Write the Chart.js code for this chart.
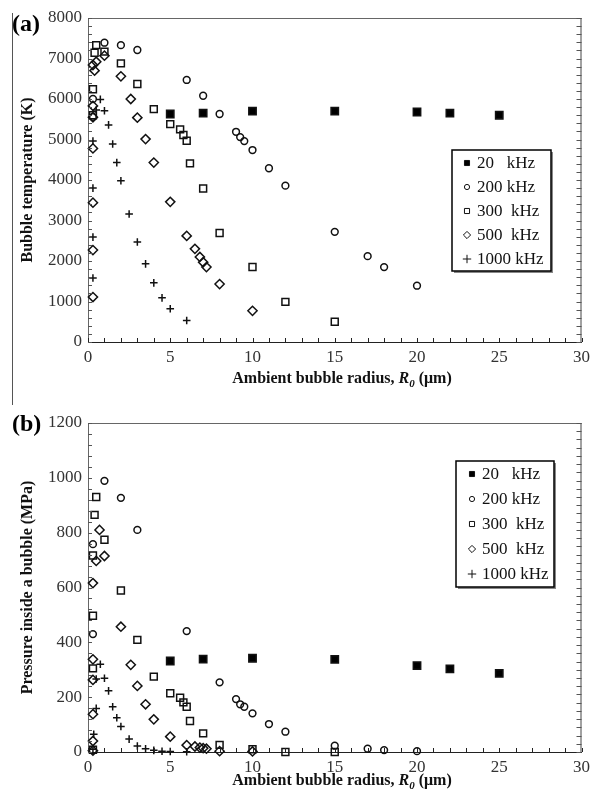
<!DOCTYPE html>
<html><head><meta charset="utf-8">
<script src="https://cdn.jsdelivr.net/npm/chart.js@4/dist/chart.umd.min.js"></script>
<style>
html,body{margin:0;padding:0;background:#fff;}
#wrap{position:relative;width:595px;height:796px;overflow:hidden;}
canvas{position:absolute;left:0;}
#ca{top:0;} #cb{top:400px;}
#vline{position:absolute;left:12px;top:13px;width:1px;height:392px;background:#555;}
</style></head><body>
<div id="wrap">
<div id="vline"></div>
<canvas id="ca" width="595" height="400"></canvas>
<canvas id="cb" width="595" height="396"></canvas>
</div>
<script>
// ---------- data ----------
const freqLabels = ['20   kHz', '200 kHz', '300  kHz', '500  kHz', '1000 kHz'];
const xTicks = [0, 5, 10, 15, 20, 25, 30];
const tempTicks = [0, 1000, 2000, 3000, 4000, 5000, 6000, 7000, 8000];
const presTicks = [0, 200, 400, 600, 800, 1000, 1200];
const tempTitle = 'Bubble temperature (K)';
const presTitle = 'Pressure inside a bubble (MPa)';
const xTitleParts = ['Ambient bubble radius, ', 'R', '0', ' (\u03bcm)'];

// (a) bubble temperature (K)
const tR20 = [5, 7, 10, 15, 20, 22, 25];
const tV20 = [5630, 5650, 5700, 5700, 5680, 5650, 5600];
const tR200 = [0.3, 0.3, 1, 2, 3, 6, 7, 8, 9, 9.25, 9.5, 10, 11, 12, 15, 17, 18, 20];
const tV200 = [6000, 5560, 7390, 7330, 7210, 6470, 6080, 5630, 5190, 5060, 4960, 4740, 4290, 3860, 2720, 2120, 1850, 1390];
const tR300 = [0.3, 0.3, 0.4, 0.5, 1, 2, 3, 4, 5, 5.6, 5.8, 6, 6.2, 7, 8, 10, 12, 15];
const tV300 = [6240, 5600, 7140, 7330, 7170, 6880, 6370, 5750, 5380, 5250, 5110, 4970, 4410, 3790, 2690, 1850, 990, 500];
const tR500 = [0.3, 0.3, 0.3, 0.3, 0.3, 0.3, 0.3, 0.4, 0.5, 1, 2, 2.6, 3, 3.5, 4, 5, 6, 6.5, 6.8, 7, 7.2, 8, 10];
const tV500 = [6840, 5830, 5550, 4780, 3440, 2270, 1110, 6700, 6920, 7070, 6560, 6000, 5540, 5010, 4430, 3460, 2620, 2300, 2100, 1970, 1850, 1430, 770];
const tR1000 = [0.3, 0.3, 0.3, 0.3, 0.5, 0.75, 1, 1.25, 1.5, 1.75, 2, 2.5, 3, 3.5, 4, 4.5, 5, 6];
const tV1000 = [4960, 3800, 2590, 1580, 5730, 5990, 5710, 5360, 4890, 4430, 3980, 3160, 2470, 1930, 1460, 1090, 820, 530];

// (b) pressure inside a bubble (MPa)
const pR20 = [5, 7, 10, 15, 20, 22, 25];
const pV20 = [332, 339, 342, 338, 315, 303, 287];
const pR200 = [0.3, 0.3, 1, 2, 3, 6, 8, 9, 9.25, 9.5, 10, 11, 12, 15, 17, 18, 20];
const pV200 = [758, 430, 989, 927, 810, 441, 254, 193, 174, 165, 141, 102, 74, 23, 12, 7, 3];
const pR300 = [0.3, 0.3, 0.3, 0.3, 0.4, 0.5, 1, 2, 3, 4, 5, 5.6, 5.8, 6, 6.2, 7, 8, 10, 12, 15];
const pV300 = [717, 497, 305, 8, 865, 930, 774, 589, 409, 275, 214, 198, 181, 165, 113, 68, 26, 10, 0, 0];
const pR500 = [0.3, 0.3, 0.3, 0.3, 0.3, 0.3, 0.5, 0.7, 1, 2, 2.6, 3, 3.5, 4, 5, 6, 6.5, 6.8, 7, 7.2, 8, 10];
const pV500 = [616, 338, 263, 138, 40, 5, 697, 810, 715, 457, 318, 241, 174, 119, 56, 25, 20, 16, 14, 12, 3, 2];
const pR1000 = [0.3, 0.35, 0.5, 0.5, 0.75, 1, 1.25, 1.5, 1.75, 2, 2.5, 3, 3.5, 4, 4.5, 5, 6];
const pV1000 = [10, 65, 159, 266, 320, 269, 223, 165, 125, 93, 47, 22, 12, 6, 3, 2, 1];

// ---------- styles ----------
const FONT = '"Liberation Serif", "Times New Roman", serif';
const markerStyles = [
  {pointStyle: 'rect', radius: 5.2, fill: '#000', legendRadius: 3.6},
  {pointStyle: 'circle', radius: 3.4, fill: 'rgba(0,0,0,0)', legendRadius: 2.6},
  {pointStyle: 'rect', radius: 4.9, fill: 'rgba(0,0,0,0)', legendRadius: 3.6},
  {pointStyle: 'rectRot', radius: 4.6, fill: 'rgba(0,0,0,0)', legendRadius: 3.6},
  {pointStyle: 'cross', radius: 3.8, fill: 'rgba(0,0,0,0)', legendRadius: 4.2}
];

function pts(xs, ys) { return xs.map((x, i) => ({x: x, y: ys[i]})); }

function makeDatasets(series) {
  return series.map((s, i) => ({
    label: freqLabels[i],
    data: pts(s[0], s[1]),
    pointStyle: markerStyles[i].pointStyle,
    pointRadius: markerStyles[i].radius,
    pointHoverRadius: markerStyles[i].radius,
    backgroundColor: markerStyles[i].fill,
    borderColor: '#111',
    pointBorderWidth: 1.5,
    borderWidth: 1.5,
    showLine: false,
    clip: false
  }));
}

const decoPlugin = {
  id: 'deco',
  afterDraw(chart) {
    const o = chart.options.plugins.deco;
    const ctx = chart.ctx;
    const {left, right, top, bottom} = chart.chartArea;
    const x = chart.scales.x, y = chart.scales.y;
    const ln = (x1, y1, x2, y2) => { ctx.beginPath(); ctx.moveTo(x1, y1); ctx.lineTo(x2, y2); ctx.stroke(); };
    ctx.save();
    ctx.lineWidth = 1;
    ctx.strokeStyle = '#666';
    ln(left, top + 0.5, right, top + 0.5);
    ctx.strokeStyle = '#444';
    ln(right - 0.5, top, right - 0.5, bottom);
    // x ticks (inward)
    ctx.strokeStyle = '#222';
    for (let v = x.min; v <= x.max + 1e-9; v += o.xMinor) {
      const px = Math.round(x.getPixelForValue(v)) + 0.5;
      ln(px, bottom, px, bottom - 4);
    }
    // left y ticks
    ctx.strokeStyle = '#555';
    for (let v = y.min; v <= y.max + 1e-9; v += o.yMinor) {
      const py = Math.round(y.getPixelForValue(v)) + 0.5;
      ln(left, py, left + 4, py);
    }
    // right ticks
    for (let v = y.min; v <= y.max + 1e-9; v += o.rMinor) {
      const py = Math.round(y.getPixelForValue(v)) + 0.5;
      ln(right, py, right - 5, py);
    }
    // legend
    const L = o.legend;
    ctx.fillStyle = '#888';
    ctx.fillRect(L.x + 2, L.y + 2, L.w, L.h);
    ctx.fillStyle = '#fff';
    ctx.fillRect(L.x, L.y, L.w, L.h);
    ctx.strokeStyle = '#000';
    ctx.lineWidth = 1.5;
    ctx.strokeRect(L.x, L.y, L.w, L.h);
    chart.data.datasets.forEach((ds, i) => {
      const cy = L.y + L.first + i * L.step;
      ctx.save();
      ctx.strokeStyle = '#111';
      ctx.fillStyle = markerStyles[i].fill;
      ctx.lineWidth = 1;
      Chart.helpers.drawPoint(ctx, {pointStyle: ds.pointStyle, radius: markerStyles[i].legendRadius, rotation: 0, borderWidth: 1}, L.x + L.mx, cy);
      ctx.restore();
      ctx.fillStyle = '#111';
      ctx.font = '17px ' + FONT;
      ctx.textBaseline = 'middle';
      ctx.textAlign = 'left';
      ctx.fillText(ds.label, L.x + L.tx, cy + 1);
    });
    // x title with italic R0
    const parts = [
      {t: xTitleParts[0], f: 'bold 16px ' + FONT, dy: 0},
      {t: xTitleParts[1], f: 'italic bold 16px ' + FONT, dy: 0},
      {t: xTitleParts[2], f: 'italic bold 11px ' + FONT, dy: 4},
      {t: xTitleParts[3], f: 'bold 16px ' + FONT, dy: 0}
    ];
    ctx.textBaseline = 'alphabetic';
    ctx.fillStyle = '#111';
    let total = 0;
    parts.forEach(p => { ctx.font = p.f; p.w = ctx.measureText(p.t).width; total += p.w; });
    let cx = o.xTitle.cx - total / 2;
    parts.forEach(p => { ctx.font = p.f; ctx.fillText(p.t, cx, o.xTitle.base + p.dy); cx += p.w; });
    // panel label
    ctx.font = 'bold 24px ' + FONT;
    ctx.fillStyle = '#000';
    ctx.fillText(o.panel.text, o.panel.x, o.panel.base);
    ctx.restore();
  }
};

function makeChart(id, series, yTicks, yTitle, o) {
  const cv = document.getElementById(id);
  return new Chart(cv, {
    type: 'scatter',
    data: {datasets: makeDatasets(series)},
    plugins: [decoPlugin],
    options: {
      responsive: false,
      animation: false,
      devicePixelRatio: 1,
      layout: {padding: {left: 0, right: 595 - o.right, top: o.top, bottom: 0}},
      plugins: {legend: {display: false}, tooltip: {enabled: false}, deco: o},
      scales: {
        x: {
          type: 'linear', min: 0, max: 30,
          afterBuildTicks: s => { s.ticks = xTicks.map(v => ({value: v})); },
          afterFit: s => { s.height = cv.height - o.bottom; },
          grid: {display: false, drawTicks: false},
          border: {display: true, color: '#222', width: 1},
          ticks: {padding: 5, color: '#333', font: {family: FONT, size: 17}, callback: v => String(v), maxRotation: 0}
        },
        y: {
          type: 'linear', min: yTicks[0], max: yTicks[yTicks.length - 1],
          afterBuildTicks: s => { s.ticks = yTicks.map(v => ({value: v})); },
          afterFit: s => { s.width = o.left; },
          grid: {display: false, drawTicks: false},
          border: {display: true, color: '#666', width: 1},
          ticks: {padding: 6, color: '#333', font: {family: FONT, size: 17}, callback: v => String(v)},
          title: {display: true, text: yTitle, color: '#111', font: {family: FONT, size: 16, weight: 'bold'}, padding: {top: 18, bottom: 0}}
        }
      }
    }
  });
}

makeChart('ca',
  [[tR20, tV20], [tR200, tV200], [tR300, tV300], [tR500, tV500], [tR1000, tV1000]],
  tempTicks, tempTitle,
  {left: 88, right: 586, top: 18, bottom: 342, xMinor: 1, yMinor: 200, rMinor: 200,
   legend: {x: 452, y: 150, w: 99, h: 121, first: 13, step: 24, mx: 15, tx: 25},
   xTitle: {cx: 342, base: 383}, panel: {text: '(a)', x: 12, base: 31}});

makeChart('cb',
  [[pR20, pV20], [pR200, pV200], [pR300, pV300], [pR500, pV500], [pR1000, pV1000]],
  presTicks, presTitle,
  {left: 88, right: 586, top: 23, bottom: 352, xMinor: 1, yMinor: 40, rMinor: 30,
   legend: {x: 456, y: 61, w: 98, h: 126, first: 13, step: 25, mx: 16, tx: 26},
   xTitle: {cx: 342, base: 385}, panel: {text: '(b)', x: 12, base: 31}});
</script>
</body></html>
